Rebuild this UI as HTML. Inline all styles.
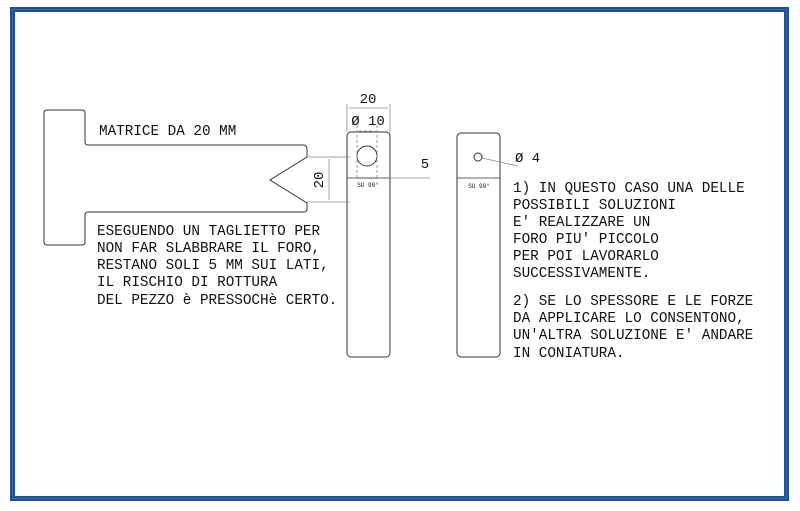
<!DOCTYPE html>
<html><head><meta charset="utf-8"><style>
body{margin:0;background:#fff}
svg{display:block}
text{font-family:"Liberation Mono",monospace;fill:#111}
</style></head><body>
<svg width="800" height="511" viewBox="0 0 800 511" xmlns="http://www.w3.org/2000/svg">
<rect x="12.5" y="9.5" width="774" height="489" fill="none" stroke="#1f4e96" stroke-width="5"/>
<rect x="12.5" y="9.5" width="774" height="489" fill="none" stroke="#3a6ab0" stroke-width="1"/>
<g fill="none" stroke="#333" stroke-width="1">
<path d="M47,110 H82 Q85,110 85,113 V142 Q85,145 88,145 H304 Q307,145 307,150 V157 L270,180 L307,203 V209 Q307,212 304,212 H88 Q85,212 85,215 V242 Q85,245 82,245 H47 Q44,245 44,242 V113 Q44,110 47,110 Z"/>
<rect x="347" y="132" width="43" height="225" rx="4"/>
<circle cx="367" cy="156" r="10"/>
<rect x="457" y="133" width="43" height="224" rx="4"/>
<circle cx="478" cy="157" r="4"/>
</g>
<g fill="none" stroke="#888" stroke-width="0.8">
<path d="M307,157 H350 M307,202 H350 M329,159 V200"/>
<path d="M347,104 V132 M390,104 V132 M349,108 H388"/>
<path d="M357,125 V178 M377,125 V178 M359,131 H375" stroke-dasharray="3,2"/>
<path d="M357,178 H377 M390,178 H430"/>
<path d="M482,158 L518,166"/>
</g>
<g stroke="#333" stroke-width="0.8">
<line x1="347" y1="178" x2="390" y2="178"/>
<line x1="457" y1="178" x2="500" y2="178"/>
</g>
<text x="368" y="103" font-family="Liberation Sans" font-size="14" text-anchor="middle">20</text>
<text x="368" y="125" font-family="Liberation Sans" font-size="14" text-anchor="middle">Ø 10</text>
<text x="425" y="168" font-family="Liberation Sans" font-size="14" text-anchor="middle">5</text>
<text transform="translate(323,180) rotate(-90)" font-family="Liberation Sans" font-size="14" text-anchor="middle">20</text>
<text x="368" y="187" font-size="6" text-anchor="middle">SU 90°</text>
<text x="479" y="188" font-size="6" text-anchor="middle">SU 90°</text>
<text x="515" y="162" font-family="Liberation Sans" font-size="14">Ø 4</text>
<g font-size="14.3">
<text x="99" y="135">MATRICE DA 20 MM</text>
<text x="97" y="235">ESEGUENDO UN TAGLIETTO PER</text>
<text x="97" y="252">NON FAR SLABBRARE IL FORO,</text>
<text x="97" y="269">RESTANO SOLI 5 MM SUI LATI,</text>
<text x="97" y="286">IL RISCHIO DI ROTTURA</text>
<text x="97" y="304">DEL PEZZO è PRESSOCHè CERTO.</text>
<text x="513" y="192">1) IN QUESTO CASO UNA DELLE</text>
<text x="513" y="209">POSSIBILI SOLUZIONI</text>
<text x="513" y="226">E' REALIZZARE UN</text>
<text x="513" y="243">FORO PIU' PICCOLO</text>
<text x="513" y="260">PER POI LAVORARLO</text>
<text x="513" y="277">SUCCESSIVAMENTE.</text>
<text x="513" y="305">2) SE LO SPESSORE E LE FORZE</text>
<text x="513" y="322">DA APPLICARE LO CONSENTONO,</text>
<text x="513" y="339">UN'ALTRA SOLUZIONE E' ANDARE</text>
<text x="513" y="357">IN CONIATURA.</text>
</g>
</svg>
</body></html>
